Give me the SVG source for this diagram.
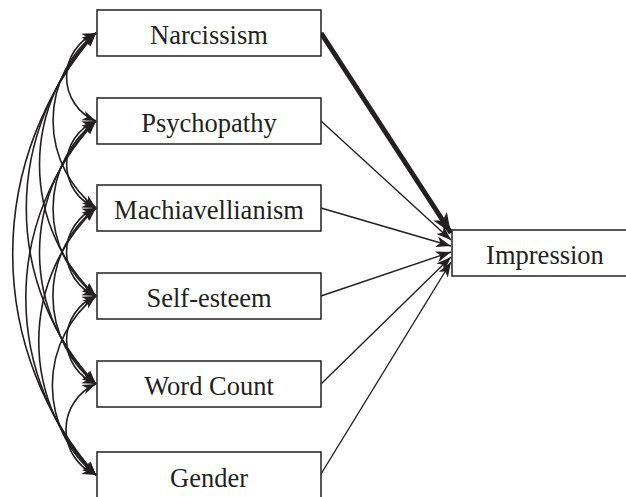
<svg xmlns="http://www.w3.org/2000/svg" width="626" height="497" viewBox="0 0 626 497">
  <style>
    .box { fill: #ffffff; stroke: #231f20; stroke-width: 1.5; }
    .lbl { font-family: "Liberation Serif", "Times New Roman", serif; font-size: 26.5px; fill: #231f20; text-anchor: middle; }
    .cov { fill: none; stroke: #231f20; stroke-width: 1.6; marker-start: url(#head); marker-end: url(#head); }
    .path { fill: none; stroke: #231f20; stroke-width: 1.4; marker-end: url(#headPath); }
    .path.strong { stroke-width: 5; marker-end: url(#headBig); }
  </style>
  <defs>
    <marker id="head" markerUnits="userSpaceOnUse" viewBox="0 0 14 10" refX="14" refY="5" markerWidth="14" markerHeight="10" orient="auto-start-reverse">
      <path d="M0,0 L14,5 L0,10 L4,5 Z" fill="#231f20"/>
    </marker>
    <marker id="headPath" markerUnits="userSpaceOnUse" viewBox="0 0 15 11" refX="15" refY="5.5" markerWidth="15" markerHeight="11" orient="auto">
      <path d="M0,0 L15,5.5 L0,11 L4,5.5 Z" fill="#231f20"/>
    </marker>
    <marker id="headBig" markerUnits="userSpaceOnUse" viewBox="0 0 20 16" refX="20" refY="8" markerWidth="20" markerHeight="16" orient="auto">
      <path d="M0,0 L20,8 L0,16 L5,8 Z" fill="#231f20"/>
    </marker>
  </defs>

  <!-- correlations among the predictors -->
  <g id="connectors">
    <path class="cov" d="M96,33 A47.6,47.6 0 0 0 96,121"/>
    <path class="cov" d="M96,33 A110.6,110.6 0 0 0 96,208"/>
    <path class="cov" d="M96,33 A181.3,181.3 0 0 0 96,296"/>
    <path class="cov" d="M96,33 A255.8,255.8 0 0 0 96,384"/>
    <path class="cov" d="M96,33 A334.8,334.8 0 0 0 96,475"/>
    <path class="cov" d="M96,121 A46.9,46.9 0 0 0 96,208"/>
    <path class="cov" d="M96,121 A110.6,110.6 0 0 0 96,296"/>
    <path class="cov" d="M96,121 A181.3,181.3 0 0 0 96,384"/>
    <path class="cov" d="M96,121 A258.3,258.3 0 0 0 96,475"/>
    <path class="cov" d="M96,208 A47.6,47.6 0 0 0 96,296"/>
    <path class="cov" d="M96,208 A111.4,111.4 0 0 0 96,384"/>
    <path class="cov" d="M96,208 A184.3,184.3 0 0 0 96,475"/>
    <path class="cov" d="M96,296 A47.6,47.6 0 0 0 96,384"/>
    <path class="cov" d="M96,296 A113.6,113.6 0 0 0 96,475"/>
    <path class="cov" d="M96,384 A49.5,49.5 0 0 0 96,475"/>

    <!-- paths to the outcome -->
    <line class="path strong" x1="321" y1="33" x2="451" y2="233"/>
    <line class="path" x1="321" y1="121" x2="451" y2="240"/>
    <line class="path" x1="321" y1="208" x2="451" y2="246"/>
    <line class="path" x1="321" y1="296" x2="451" y2="252"/>
    <line class="path" x1="321" y1="384" x2="451" y2="257"/>
    <line class="path" x1="321" y1="474" x2="451" y2="262"/>
  </g>

  <g id="narcissism">
    <rect class="box" x="97" y="10" width="224" height="46"/>
    <text class="lbl" x="209" y="44">Narcissism</text>
  </g>
  <g id="psychopathy">
    <rect class="box" x="97" y="98" width="224" height="46"/>
    <text class="lbl" x="209" y="132">Psychopathy</text>
  </g>
  <g id="machiavellianism">
    <rect class="box" x="97" y="185" width="224" height="46"/>
    <text class="lbl" x="209" y="219">Machiavellianism</text>
  </g>
  <g id="self-esteem">
    <rect class="box" x="97" y="273" width="224" height="46"/>
    <text class="lbl" x="209" y="307">Self-esteem</text>
  </g>
  <g id="word-count">
    <rect class="box" x="97" y="361" width="224" height="46"/>
    <text class="lbl" x="209" y="395">Word Count</text>
  </g>
  <g id="gender">
    <rect class="box" x="97" y="452" width="224" height="60"/>
    <text class="lbl" x="209" y="486.5">Gender</text>
  </g>
  <g id="impression">
    <rect class="box" x="452" y="230" width="190" height="46"/>
    <text class="lbl" x="545" y="263.5">Impression</text>
  </g>
</svg>
